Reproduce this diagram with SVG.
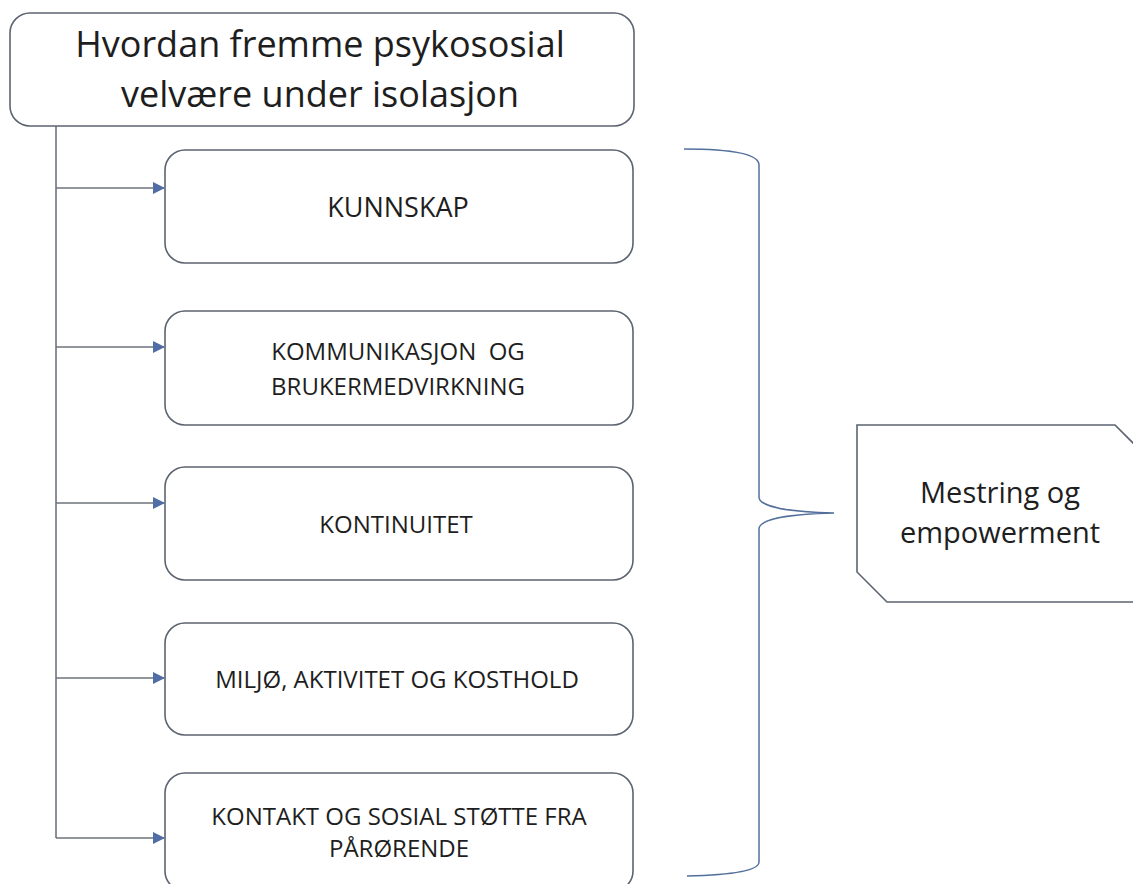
<svg xmlns="http://www.w3.org/2000/svg" width="1133" height="884" viewBox="0 0 1133 884">
<style>
.box{fill:#ffffff;stroke:#5b6470;stroke-width:1.6}
.conn{fill:none;stroke:#6d737c;stroke-width:1.6}
.brace{fill:none;stroke:#53709c;stroke-width:1.5}
text{font-family:"Open Sans","Liberation Sans",sans-serif;fill:#1e1e1e;text-anchor:middle}
.t1{font-size:36px}
.t2{font-size:24px}
.t3{font-size:27px}
.t4{font-size:29px}
</style>
<defs>
<marker id="ah" markerWidth="12" markerHeight="12" refX="11" refY="6" orient="auto" markerUnits="userSpaceOnUse">
<path d="M0,0 L12,6 L0,12 Z" fill="#4f6ea6"/>
</marker>
</defs>
<rect width="1133" height="884" fill="#ffffff"/>
<g id="connectors">
<line class="conn" x1="56" y1="126" x2="56" y2="838"/>
<line class="conn" x1="56" y1="188" x2="164" y2="188" marker-end="url(#ah)"/>
<line class="conn" x1="56" y1="347" x2="164" y2="347" marker-end="url(#ah)"/>
<line class="conn" x1="56" y1="503" x2="164" y2="503" marker-end="url(#ah)"/>
<line class="conn" x1="56" y1="678" x2="164" y2="678" marker-end="url(#ah)"/>
<line class="conn" x1="56" y1="838" x2="164" y2="838" marker-end="url(#ah)"/>
<path class="brace" d="M684,149 C720,149 759,152 759,165 L759,497 C759,507 790,512 834,513 C790,514 759,519 759,529 L759,862 C759,871 730,875 687,876"/>
</g>
<g id="title">
<rect class="box" x="10" y="13" width="624" height="113" rx="20" ry="20"/>
<text class="t1" x="320" y="57">Hvordan fremme psykososial</text>
<text class="t1" x="320" y="107">velvære under isolasjon</text>
</g>
<g id="kunnskap">
<rect class="box" x="165" y="150" width="468" height="113" rx="20" ry="20"/>
<text class="t3" x="398" y="217">KUNNSKAP</text>
</g>
<g id="kommunikasjon">
<rect class="box" x="165" y="311" width="468" height="114" rx="20" ry="20"/>
<text class="t2" x="398" y="360" xml:space="preserve">KOMMUNIKASJON  OG</text>
<text class="t2" x="398" y="395">BRUKERMEDVIRKNING</text>
</g>
<g id="kontinuitet">
<rect class="box" x="165" y="467" width="468" height="113" rx="20" ry="20"/>
<text class="t2" x="396" y="533">KONTINUITET</text>
</g>
<g id="miljo">
<rect class="box" x="165" y="623" width="468" height="112" rx="20" ry="20"/>
<text class="t2" x="397" y="688">MILJØ, AKTIVITET OG KOSTHOLD</text>
</g>
<g id="kontakt">
<rect class="box" x="165" y="773" width="468" height="118" rx="20" ry="20"/>
<text class="t2" x="399" y="825">KONTAKT OG SOSIAL STØTTE FRA</text>
<text class="t2" x="399" y="857">PÅRØRENDE</text>
</g>
<g id="mestring">
<path class="box" d="M857,425 H1115 L1145,455 V602 H887 L857,572 Z"/>
<text class="t4" x="1000" y="503">Mestring og</text>
<text class="t4" x="1000" y="543">empowerment</text>
</g>
</svg>
